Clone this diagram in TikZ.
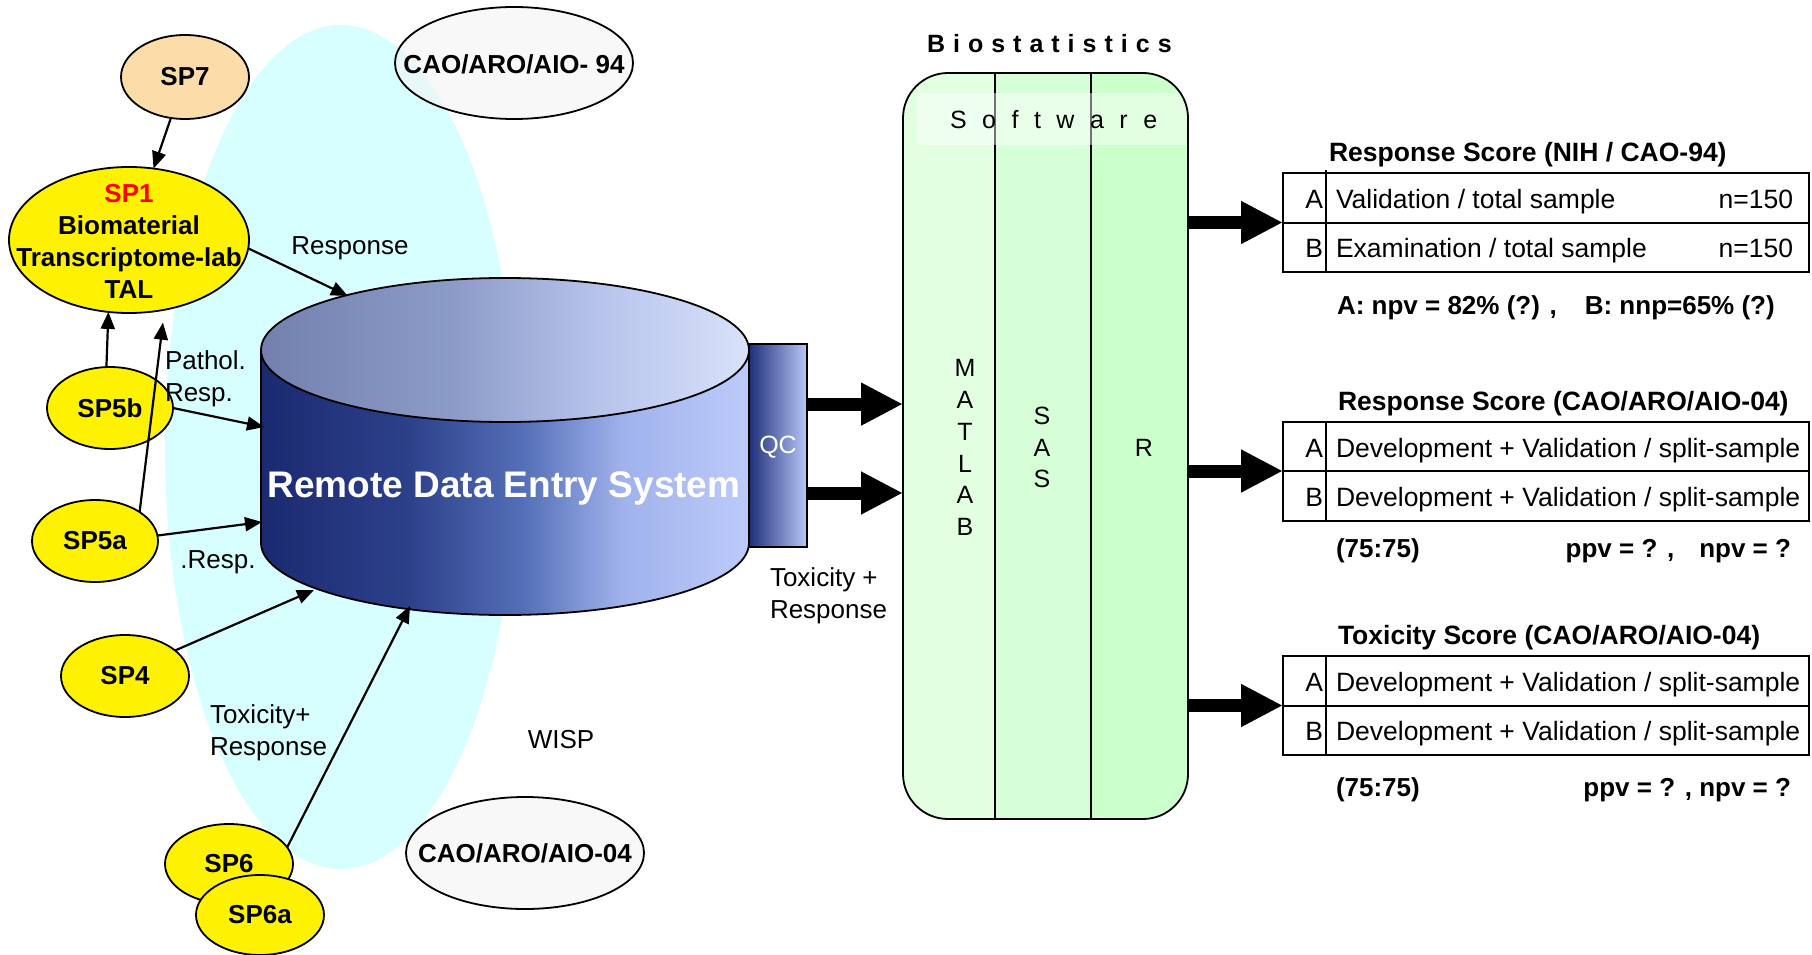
\documentclass[tikz,border=0pt]{standalone}
\usepackage{fontspec}
\setmainfont{Liberation Sans}
\usetikzlibrary{shapes.geometric,arrows.meta,calc}
\definecolor{cyanbg}{HTML}{D8FFFF}
\definecolor{peach}{HTML}{FCDCA9}
\definecolor{lgray}{HTML}{F4F4F4}
\definecolor{colA}{HTML}{E2FFE2}
\definecolor{colB}{HTML}{D7FFD7}
\definecolor{colC}{HTML}{CBFFCB}
\definecolor{cbA}{HTML}{1B2A70}
\definecolor{cbB}{HTML}{2C408A}
\definecolor{cbC}{HTML}{5570B8}
\definecolor{cbD}{HTML}{A0B2EC}
\definecolor{cbE}{HTML}{BCCBFA}
\definecolor{ctA}{HTML}{7380AE}
\definecolor{ctB}{HTML}{8C9CC8}
\definecolor{ctC}{HTML}{B8C4EC}
\definecolor{ctD}{HTML}{D8E2FA}
\definecolor{qcL}{HTML}{1F2F7A}
\definecolor{qcR}{HTML}{B8C8F8}
\pgfdeclarehorizontalshading{cylbody}{100bp}{color(0bp)=(cbA); color(25bp)=(cbA); color(40bp)=(cbB); color(52bp)=(cbC); color(62bp)=(cbD); color(75bp)=(cbE); color(100bp)=(cbE)}
\pgfdeclarehorizontalshading{cyltop}{100bp}{color(0bp)=(ctA); color(25bp)=(ctA); color(45bp)=(ctB); color(60bp)=(ctC); color(75bp)=(ctD); color(100bp)=(ctD)}
\begin{document}
\begin{tikzpicture}[x=1pt,y=-1pt,
  every node/.style={inner sep=0pt, outer sep=0pt, font=\fontsize{26}{32}\selectfont},
  bold/.style={font=\fontsize{26}{32}\selectfont\bfseries},
  tt/.style={font=\fontsize{26.5}{32}\selectfont},
  tb/.style={font=\fontsize{26.5}{32}\selectfont\bfseries},
  spnode/.style={ellipse, draw, line width=1.8pt, fill=yellow, minimum width=128pt, minimum height=82pt, font=\fontsize{26}{32}\selectfont\bfseries},
  caonode/.style={ellipse, draw, line width=1.8pt, fill=lgray, fill opacity=0.6, draw opacity=1, minimum width=238pt, minimum height=112pt},
  conn/.style={line width=2.2pt, -{Triangle[length=17pt,width=14pt]}},
  fat/.style={line width=13pt, -{Triangle[length=42pt,width=40pt]}},
  tbl/.style={draw, line width=2pt, minimum width=526pt, minimum height=99pt},
  rule/.style={line width=2pt},
  soft/.style={align=center, font=\fontsize{25}{31.8}\selectfont},
]
\useasboundingbox (0,0) rectangle (1812,955);
\fill[white] (0,0) rectangle (1812,955);

% WISP background
\fill[cyanbg] (341,447) ellipse[x radius=176pt, y radius=422pt];

% trial ellipses
\node[caonode] (cao94) at (514,63) {};
\node[bold] (cao94t) at (514,64) {CAO/ARO/AIO- 94};
\node[caonode] (cao04) at (525,853) {};
\node[bold] (cao04t) at (525,853) {CAO/ARO/AIO-04};

% cylinder
\shade[shading=cylbody] (261,350) -- (261,543) arc[start angle=180, end angle=360, x radius=244pt, y radius=72pt] -- (749,350) -- cycle;
\draw[line width=1.8pt] (261,350) -- (261,543) arc[start angle=180, end angle=360, x radius=244pt, y radius=72pt] -- (749,350);
\shade[shading=cyltop, draw=black, line width=1.8pt] (505,350) ellipse[x radius=244pt, y radius=72pt];
\node[font=\fontsize{37}{40}\selectfont\bfseries, text=white, anchor=base] (rdes) at (504,497) {Remote Data Entry System};
\coordinate (cylR) at (348,296);
\coordinate (cyl5b) at (264,427);
\coordinate (cyl5a) at (262,522);
\coordinate (cyl4) at (314,590);
\coordinate (cyl6) at (410,606);

% QC
\node[draw, line width=1.2pt, left color=qcL, right color=qcR, minimum width=58pt, minimum height=203pt] (qc) at (778,445.5) {};
\node[text=white, font=\fontsize{25}{30}\selectfont] (qct) at (778,447) {QC};

% SP ellipses
\node[spnode, fill=peach, minimum height=84pt] (sp7) at (185,77) {SP7};
\node[spnode, minimum width=240pt, minimum height=146pt] (sp1) at (129,240) {};
\node[bold, align=center] (sp1t) at (129,241) {\textcolor{red}{SP1}\\Biomaterial\\Transcriptome-lab\\TAL};
\node[spnode, minimum width=126pt] (sp5b) at (110,408) {SP5b};
\node[spnode, minimum width=126pt] (sp5a) at (95,541) {SP5a};
\node[spnode] (sp4) at (125,676) {SP4};
\node[spnode, minimum height=80pt] (sp6) at (229,864) {SP6};
\node[spnode, minimum height=80pt] (sp6a) at (260,915) {SP6a};

% connectors
\draw[conn] (sp7) -- (sp1);
\draw[conn] (sp5b.95) -- (sp1.254);
\draw[conn, shorten >=13pt] (sp5a.33) -- (sp1.297);
\draw[conn] (sp1.-4) -- (cylR);
\draw[conn] (sp5b.east) -- (cyl5b);
\draw[conn] (sp5a.5) -- (cyl5a);
\draw[conn] (sp4.27) -- (cyl4);
\draw[conn] (sp6.16) -- (cyl6);

% labels
\node (lresp) at (350,248) {Response};
\node[anchor=west, align=left] (lpath) at (165,379) {Pathol.\\Resp.};
\node (lresp2) at (218,562) {.Resp.};
\node[anchor=west, align=left] (ltox) at (210,733) {Toxicity+\\Response};
\node (lwisp) at (561,740) {WISP};
\node[anchor=west, align=left] (ltox2) at (770,596) {Toxicity +\\Response};

% Biostatistics box
\begin{scope}
\clip[rounded corners=45pt] (903,73) rectangle (1188,819);
\fill[colA] (903,73) rectangle (995,819);
\fill[colB] (995,73) rectangle (1091,819);
\fill[colC] (1091,73) rectangle (1188,819);
\end{scope}
\draw[line width=1.8pt] (995,73) -- (995,819);
\draw[line width=1.8pt] (1091,73) -- (1091,819);
\fill[white, opacity=0.45] (917,93) rectangle (1188,145);
\node[draw, line width=1.8pt, rounded corners=45pt, minimum width=285pt, minimum height=746pt] (bio) at (1045.5,446) {};
\node[anchor=base west, font=\fontsize{25}{30}\selectfont\bfseries\addfontfeatures{LetterSpace=32}] (biot) at (927,53) {Biostatistics};
\node[anchor=base west, font=\fontsize{25}{30}\selectfont\addfontfeatures{LetterSpace=62}] (softt) at (950,129) {Software};
\node[soft] (matlab) at (965,447.5) {M\\A\\T\\L\\A\\B};
\node[soft] (sas) at (1042,447.5) {S\\A\\S};
\node[soft] (rr) at (1144,448) {R};

% arrows into box
\coordinate (q1) at ($(qc.north east)!0.296!(qc.south east)$);
\coordinate (q2) at ($(qc.north east)!0.734!(qc.south east)$);
\draw[fat] (q1) -- (q1 -| bio.west);
\draw[fat] (q2) -- (q2 -| bio.west);

% tables
\node[tbl] (t1) at (1546,222.5) {};
\node[tbl] (t2) at (1546,471) {};
\node[tbl] (t3) at (1546,705.5) {};
\draw[rule] (t1.west) -- (t1.east);
\draw[rule] (t2.west) -- (t2.east);
\draw[rule] (t3.west) -- (t3.east);
\draw[rule] ($(t1.north west)+(43,-3)$) -- ($(t1.south west)+(43,0)$);
\draw[rule] ($(t2.north west)+(43,0)$) -- ($(t2.south west)+(43,0)$);
\draw[rule] ($(t3.north west)+(43,0)$) -- ($(t3.south west)+(43,0)$);

% arrows out of box
\draw[fat] (t1.west -| bio.east) -- (t1.west);
\draw[fat] (t2.west -| bio.east) -- (t2.west);
\draw[fat] (t3.west -| bio.east) -- (t3.west);

% table 1
\node[tb, anchor=base west] (t1h) at (1329,161) {Response Score (NIH / CAO-94)};
\node[tt, anchor=base east] (t1a) at (1323,208) {A};
\node[tt, anchor=base west] (t1at) at (1336,208) {Validation / total sample};
\node[tt, anchor=base east] (t1an) at (1793,208) {n=150};
\node[tt, anchor=base east] (t1b) at (1323,257) {B};
\node[tt, anchor=base west] (t1bt) at (1336,257) {Examination / total sample};
\node[tt, anchor=base east] (t1bn) at (1793,257) {n=150};
\node[bold, anchor=base west] (t1f) at (1337,314) {A: npv = 82\% (?) ,\hspace{28pt}B: nnp=65\% (?)};

% table 2
\node[tb, anchor=base west] (t2h) at (1338,410) {Response Score (CAO/ARO/AIO-04)};
\node[tt, anchor=base east] (t2a) at (1323,457) {A};
\node[tt, anchor=base west] (t2at) at (1336,457) {Development + Validation / split-sample};
\node[tt, anchor=base east] (t2b) at (1323,506) {B};
\node[tt, anchor=base west] (t2bt) at (1336,506) {Development + Validation / split-sample};
\node[bold, anchor=base west] (t2f) at (1336,557) {(75:75)};
\node[bold, anchor=base east] (t2g) at (1791,557) {ppv = ? ,\hspace{25pt}npv = ?};

% table 3
\node[tb, anchor=base west] (t3h) at (1338,644) {Toxicity Score (CAO/ARO/AIO-04)};
\node[tt, anchor=base east] (t3a) at (1323,691) {A};
\node[tt, anchor=base west] (t3at) at (1336,691) {Development + Validation / split-sample};
\node[tt, anchor=base east] (t3b) at (1323,740) {B};
\node[tt, anchor=base west] (t3bt) at (1336,740) {Development + Validation / split-sample};
\node[bold, anchor=base west] (t3f) at (1336,796) {(75:75)};
\node[bold, anchor=base east] (t3g) at (1791,796) {ppv = ? , npv = ?};
\end{tikzpicture}
\end{document}
